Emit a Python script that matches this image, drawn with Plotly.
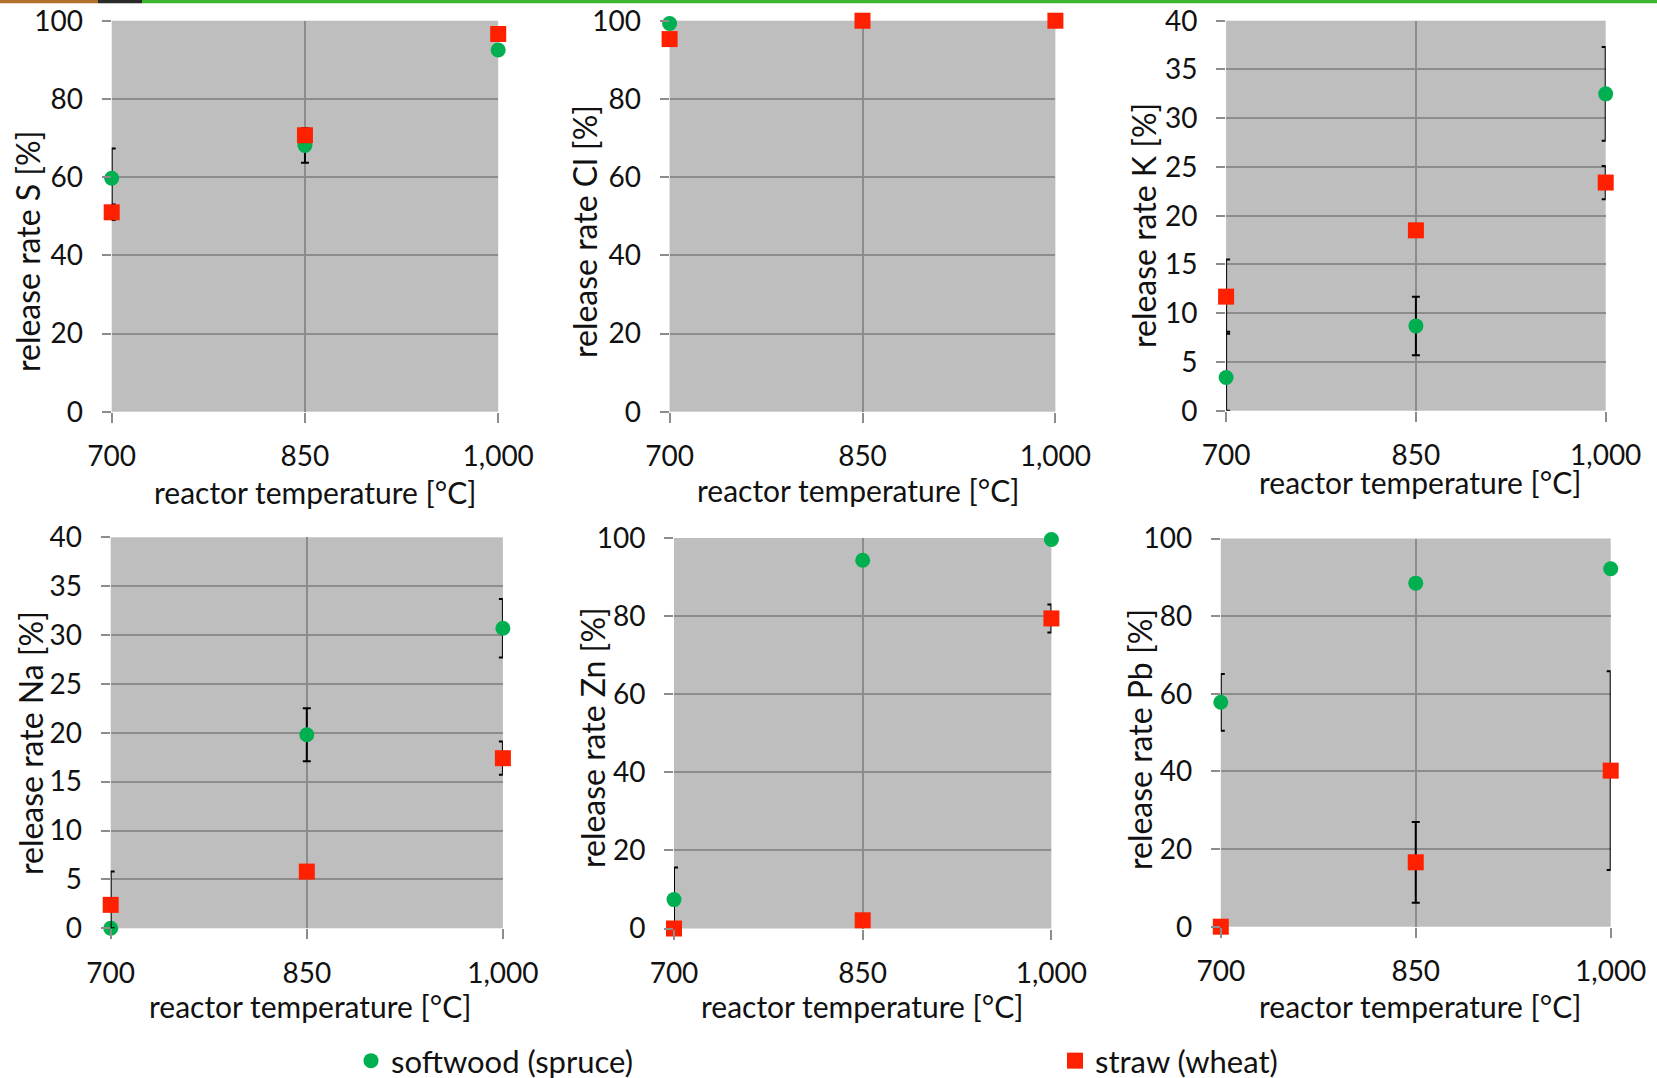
import plotly.graph_objects as go

W, H = 1657, 1078

temps = [700, 850, 1000]
temp_labels = ["700", "850", "1,000"]

# ---- data (release rate, %) ----
S_softwood = [59.7, 68.1, 92.5]
S_softwood_err = [7.6, 4.4, None]
S_straw = [51.0, 70.7, 96.6]
S_straw_err = [2.0, None, None]

Cl_softwood = [99.3, 100.0, 100.0]
Cl_softwood_err = [None, None, None]
Cl_straw = [95.3, 100.0, 100.0]
Cl_straw_err = [None, None, None]

K_softwood = [3.4, 8.7, 32.5]
K_softwood_err = [4.7, 3.0, 4.8]
K_softwood_errminus = [3.4, 3.0, 4.8]
K_straw = [11.7, 18.5, 23.4]
K_straw_err = [3.8, None, 1.7]

Na_softwood = [0.0, 19.8, 30.7]
Na_softwood_err = [None, 2.7, 3.0]
Na_straw = [2.4, 5.8, 17.4]
Na_straw_err = [3.4, None, 1.7]
Na_straw_errminus = [2.4, None, 1.7]

Zn_softwood = [7.4, 94.3, 99.6]
Zn_softwood_err = [8.2, None, None]
Zn_softwood_errminus = [7.4, None, None]
Zn_straw = [0.0, 2.1, 79.4]
Zn_straw_err = [None, None, 3.6]

Pb_softwood = [57.8, 88.5, 92.2]
Pb_softwood_err = [7.3, 1.0, None]
Pb_straw = [0.0, 16.6, 40.2]
Pb_straw_err = [None, 10.4, 25.6]

y_titles = ["release rate S [%]", "release rate Cl [%]", "release rate K [%]",
            "release rate Na [%]", "release rate Zn [%]", "release rate Pb [%]"]
y_max = [100, 100, 40, 40, 100, 100]
y_dtick = [20, 20, 5, 5, 20, 20]
x_title = "reactor temperature [°C]"

series = [
    (S_softwood, S_softwood_err, None, S_straw, S_straw_err, None),
    (Cl_softwood, Cl_softwood_err, None, Cl_straw, Cl_straw_err, None),
    (K_softwood, K_softwood_err, K_softwood_errminus, K_straw, K_straw_err, None),
    (Na_softwood, Na_softwood_err, None, Na_straw, Na_straw_err, Na_straw_errminus),
    (Zn_softwood, Zn_softwood_err, Zn_softwood_errminus, Zn_straw, Zn_straw_err, None),
    (Pb_softwood, Pb_softwood_err, None, Pb_straw, Pb_straw_err, None),
]

# ---- layout geometry (pixels): left, right, top, bottom ----
boxes = [
    (111.7, 498.2, 20.7, 411.7),
    (669.6, 1055.4, 20.7, 411.7),
    (1226.1, 1605.7, 20.7, 410.7),
    (110.7, 502.9, 537.3, 928.3),
    (674.0, 1051.4, 538.0, 928.5),
    (1220.8, 1610.7, 538.5, 926.7),
]
ytitle_pos = [(27, 251), (585, 232), (1143, 226), (30, 743), (592, 738), (1139, 740)]
xtitle_pos = [(315, 492), (858, 490), (1420, 482), (310, 1006), (862, 1006), (1420, 1006)]

FONT = "Lato, Carlito, Calibri, sans-serif"
GREEN = "#00B050"
RED = "#FF2000"
GRID = "#8C8C8C"
TXT = "#111111"
FS = 28


def px(x):
    return x / W


def py(y):
    return 1 - y / H


fig = go.Figure()

for i, (sv, se, sem, tv, te, tem) in enumerate(series):
    n = "" if i == 0 else str(i + 1)
    ax_x, ax_y = "x" + n, "y" + n
    err_s = dict(type="data", array=se, color="black", thickness=2, width=4, visible=True)
    if sem is not None:
        err_s["symmetric"] = False
        err_s["arrayminus"] = sem
    err_t = dict(type="data", array=te, color="black", thickness=2, width=4, visible=True)
    if tem is not None:
        err_t["symmetric"] = False
        err_t["arrayminus"] = tem
    fig.add_trace(go.Scatter(
        x=temps, y=sv, mode="markers", name="softwood (spruce)",
        marker=dict(symbol="circle", size=15, color=GREEN),
        error_y=err_s, cliponaxis=False, showlegend=(i == 0), legend="legend",
        xaxis=ax_x, yaxis=ax_y))
    fig.add_trace(go.Scatter(
        x=temps, y=tv, mode="markers", name="straw (wheat)",
        marker=dict(symbol="square", size=16, color=RED),
        error_y=err_t, cliponaxis=False, showlegend=(i == 0), legend="legend2",
        xaxis=ax_x, yaxis=ax_y))

leg_common = dict(orientation="h", yanchor="middle", xanchor="left",
                  font=dict(family=FONT, size=31, color=TXT), bgcolor="rgba(0,0,0,0)",
                  itemsizing="trace", borderwidth=0)
layout = dict(
    width=W, height=H,
    margin=dict(l=0, r=0, t=0, b=0, autoexpand=False),
    paper_bgcolor="white",
    plot_bgcolor="#BEBEBE",
    font=dict(family=FONT, size=FS, color=TXT),
    showlegend=True,
    legend=dict(x=px(351), y=py(1061), **leg_common),
    legend2=dict(x=px(1055), y=py(1061), **leg_common),
)

annotations = []
for i, (l, r, t, b) in enumerate(boxes):
    n = "" if i == 0 else str(i + 1)
    layout["xaxis" + n] = dict(
        domain=[px(l), px(r)], range=[700, 1000], anchor="y" + n,
        tickvals=temps, ticktext=temp_labels,
        showgrid=True, gridcolor=GRID, gridwidth=2, zeroline=False, showline=False,
        ticks="outside", ticklen=10, tickwidth=2, tickcolor=GRID, automargin=False,
        ticklabelstandoff=10, tickfont=dict(size=FS, color=TXT), fixedrange=True)
    layout["yaxis" + n] = dict(
        domain=[py(b), py(t)], range=[0, y_max[i]], anchor="x" + n,
        dtick=y_dtick[i], tick0=0,
        showgrid=True, gridcolor=GRID, gridwidth=2, zeroline=False, showline=False,
        ticks="outside", ticklen=9, tickwidth=2, tickcolor=GRID, automargin=False,
        ticklabelstandoff=13, tickfont=dict(size=FS, color=TXT), fixedrange=True)
    annotations.append(dict(
        text=y_titles[i], x=px(ytitle_pos[i][0]), y=py(ytitle_pos[i][1]),
        xref="paper", yref="paper", showarrow=False, textangle=-90,
        xanchor="center", yanchor="middle", font=dict(size=32, color=TXT)))
    annotations.append(dict(
        text=x_title, x=px(xtitle_pos[i][0]), y=py(xtitle_pos[i][1]),
        xref="paper", yref="paper", showarrow=False,
        xanchor="center", yanchor="middle", font=dict(size=30, color=TXT)))

layout["annotations"] = annotations
layout["shapes"] = [
    dict(type="rect", xref="paper", yref="paper", x0=0, x1=px(98), y0=py(3.3), y1=1,
         fillcolor="#B0702E", line=dict(width=0), layer="above"),
    dict(type="rect", xref="paper", yref="paper", x0=px(98), x1=px(142), y0=py(3.3), y1=1,
         fillcolor="#2A2A2A", line=dict(width=0), layer="above"),
    dict(type="rect", xref="paper", yref="paper", x0=px(142), x1=1, y0=py(3.3), y1=1,
         fillcolor="#3CB531", line=dict(width=0), layer="above"),
]
fig.update_layout(**layout)

fig.write_html("out.html", config={"displayModeBar": False},
               post_script="document.body.style.margin='0';document.body.style.overflow='hidden';")
